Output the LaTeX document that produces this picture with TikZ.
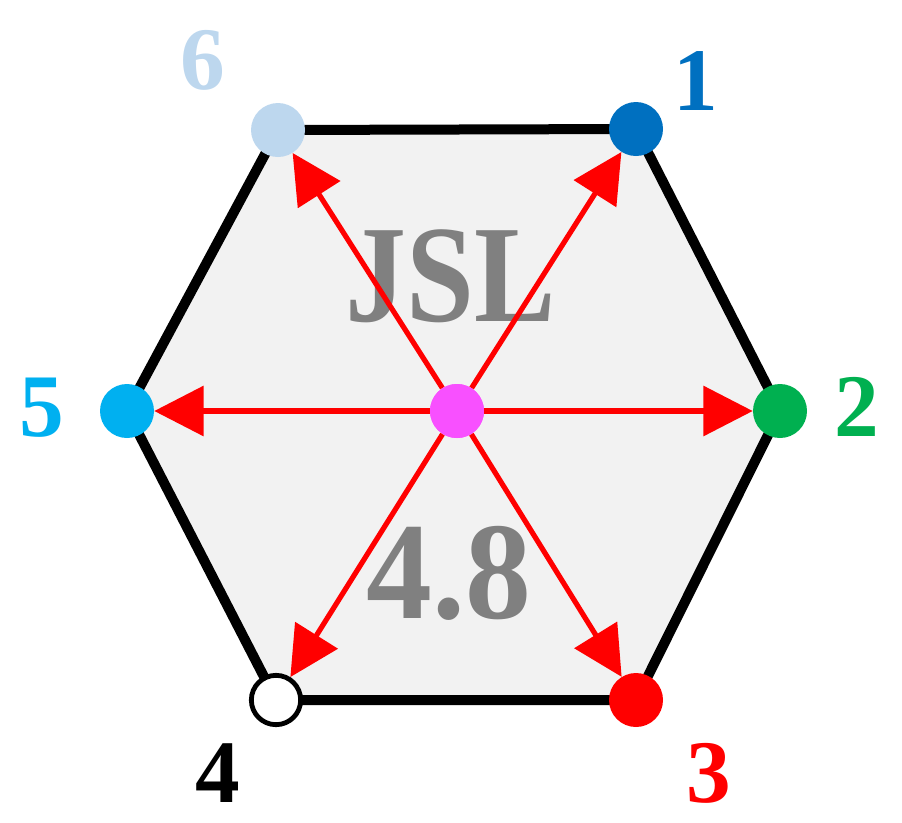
\documentclass[tikz,border=0pt]{standalone}
\usepackage{fontspec}
\setmainfont{Liberation Serif}
\usetikzlibrary{arrows.meta}
\definecolor{cone}{RGB}{0,112,192}
\definecolor{ctwo}{RGB}{0,176,80}
\definecolor{cthree}{RGB}{255,0,0}
\definecolor{cfive}{RGB}{0,176,240}
\definecolor{csix}{RGB}{189,215,238}
\definecolor{cmid}{RGB}{248,80,255}
\definecolor{hexfill}{RGB}{242,242,242}
\definecolor{txtgray}{RGB}{128,128,128}
\begin{document}
\begin{tikzpicture}[x=0.75pt,y=-0.75pt,
  dot/.style={circle,minimum size=40.5pt,inner sep=0pt},
  arr/.style={draw=red,line width=3.9pt,-{Triangle[length=37pt,width=37pt]}},
  lab/.style={anchor=base,font=\fontsize{67}{67}\bfseries\selectfont},
  big/.style={anchor=base,text=txtgray,font=\fontsize{104}{104}\bfseries\selectfont},
  edge/.style={draw=black,line width=7.5pt}]
\useasboundingbox (0,0) rectangle (902,822);
\coordinate (p1) at (636,129);
\coordinate (p2) at (780,411);
\coordinate (p3) at (636,700);
\coordinate (p4) at (276,700);
\coordinate (p5) at (127,411);
\coordinate (p6) at (278,130);
\fill[hexfill] (p1)--(p2)--(p3)--(p4)--(p5)--(p6)--cycle;
\draw[edge,line join=round] (p1)--(p2)--(p3)--(p4)--(p5)--(p6)--cycle;
\node[big,xscale=0.88] (jsl) at (451,321) {JSL};
\node[big,xscale=0.95] (num) at (449,618) {4.8};
\node[dot,fill=cone] (n1) at (p1) {};
\node[dot,fill=ctwo] (n2) at (p2) {};
\node[dot,fill=cthree] (n3) at (p3) {};
\node[dot,fill=white,draw=black,line width=3.6pt,minimum size=37pt] (n4) at (p4) {};
\node[dot,fill=cfive] (n5) at (p5) {};
\node[dot,fill=csix] (n6) at (p6) {};
\node[dot,fill=cmid] (c) at (457,411) {};
\foreach \n in {n1,n2,n3,n4,n5,n6} \draw[arr] (c) -- (\n);
\node[dot,fill=cmid] at (c) {};
\node[lab,text=cone] (l1) at (696,110) {1};
\node[lab,text=ctwo] (l2) at (857,436) {2};
\node[lab,text=cthree] (l3) at (709,802) {3};
\node[lab,text=black] (l4) at (218,802) {4};
\node[lab,text=cfive] (l5) at (42,436) {5};
\node[lab,text=csix] (l6) at (203,89) {6};
\end{tikzpicture}
\end{document}
